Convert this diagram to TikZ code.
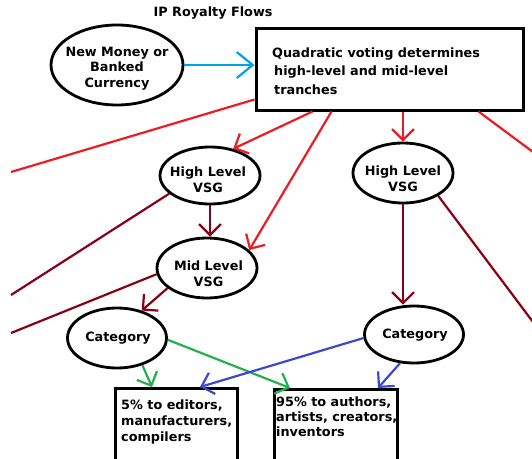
\documentclass[tikz,border=0pt]{standalone}
\usepackage{fontspec}
\setmainfont{DejaVu Sans}
\usetikzlibrary{arrows.meta,shapes.geometric,calc}
\definecolor{pblue}{RGB}{0,162,232}
\definecolor{pred}{RGB}{237,28,36}
\definecolor{pdred}{RGB}{136,0,21}
\definecolor{pgreen}{RGB}{34,177,76}
\definecolor{pindigo}{RGB}{63,72,204}
\begin{document}
\begin{tikzpicture}[x=1pt,y=-1pt,
  ell/.style={ellipse,draw,line width=2.8pt,inner sep=0pt},
  boxst/.style={rectangle,draw,line width=3pt,inner sep=0pt},
  txt/.style={inner sep=0pt,font=\fontsize{12.8pt}{15.5pt}\selectfont\bfseries,align=center},
  ltxt/.style={inner sep=0pt,anchor=west,align=left},
  arr/.style={-{Straight Barb[length=11pt,width=22pt]},line width=2.2pt},
  plain/.style={line width=2.2pt},
  redl/.style={draw=pred},
  dredl/.style={draw=pdred},
]
\clip (0,0) rectangle (532,458);
\fill[white] (0,0) rectangle (532,458);

% title
\node[txt] (title) at (213,13) {IP Royalty Flows};

% nodes
\node[ell,minimum width=132pt,minimum height=80pt] (nm) at (117,65) {};
\node[txt] (nmt) at (117,68.5) {New Money or\\Banked\\Currency};

\node[boxst,minimum width=267pt,minimum height=82pt] (q) at (389.5,69) {};
\node[txt,ltxt,font=\fontsize{12.8pt}{18.5pt}\selectfont\bfseries] (qt) at (272,71)
  {Quadratic voting determines\\\hspace*{2pt}high-level and mid-level\\\hspace*{2pt}tranches};

\node[ell,minimum width=100pt,minimum height=57pt] (hl1) at (210,175.5) {};
\node[txt] (hl1t) at (208,179.5) {High Level\\VSG};

\node[ell,minimum width=100pt,minimum height=60pt] (hl2) at (403,173) {};
\node[txt] (hl2t) at (403,178.5) {High Level\\VSG};

\node[ell,minimum width=100pt,minimum height=60pt] (mid) at (207,268) {};
\node[txt] (midt) at (208.5,273.5) {Mid\,\,Level\\VSG};

\node[ell,minimum width=99pt,minimum height=60pt] (cat1) at (117,338) {};
\node[txt] (cat1t) at (118,338) {Category};

\node[ell,minimum width=99pt,minimum height=57pt] (cat2) at (414,334.5) {};
\node[txt] (cat2t) at (415,335) {Category};

\node[boxst,anchor=north west,minimum width=122pt,minimum height=100pt] (b1) at (114,387) {};
\node[txt,ltxt,font=\fontsize{12.8pt}{16pt}\selectfont\bfseries] (b1t) at (121,421.7)
  {5\% to editors,\\manufacturers,\\compilers};

\node[boxst,anchor=north west,minimum width=123pt,minimum height=100pt] (b2) at (273,388) {};
\node[txt,ltxt,font=\fontsize{12.8pt}{15pt}\selectfont\bfseries] (b2t) at (276,417)
  {95\% to authors,\\artists, creators,\\inventors};

% free ends at the picture edges
\coordinate (eL1) at (11,172);
\coordinate (eL2) at (11,295);
\coordinate (eL3) at (11,333);
\coordinate (eR1) at (533,152);
\coordinate (eR2) at (533,322);

% blue input arrow
\draw[-{Straight Barb[length=16pt,width=26pt]},line width=2.2pt,draw=pblue]
  (nm.east) -- (nm.east -| q.west);

% red tranches
\draw[plain,redl] ([yshift=12pt]q.south west) -- (eL1);
\draw[arr,redl] ([xshift=58pt]q.south west) -- (hl1.49);
\draw[arr,redl] ([xshift=77pt]q.south west) -- (mid.23);
\draw[arr,redl] (hl2.north |- q.south) -- (hl2.north);
\draw[plain,redl] ([xshift=-46pt]q.south east) -- (eR1);

% dark red flows
\draw[plain,dredl] (hl1.204) -- (eL2);
\draw[arr,dredl] (hl1.south) -- (hl1.south |- mid.north);
\draw[plain,dredl] (mid.187) -- (eL3);
\draw[arr,dredl] (mid.207) -- (cat1.48);
\draw[arr,dredl] (hl2.south) -- (hl2.south |- cat2.north);
\draw[plain,dredl] (hl2.-33) -- (eR2);

% green flows
\draw[arr,draw=pgreen] (cat1.-47) -- ([xshift=38pt]b1.north west);
\draw[arr,draw=pgreen] (cat1.-2) -- ([xshift=17pt]b2.north west);

% indigo flows
\draw[arr,draw=pindigo] (cat2.184) -- ([xshift=86pt]b1.north west);
\draw[arr,draw=pindigo] (cat2.244) -- ([xshift=105pt]b2.north west);
\end{tikzpicture}
\end{document}
